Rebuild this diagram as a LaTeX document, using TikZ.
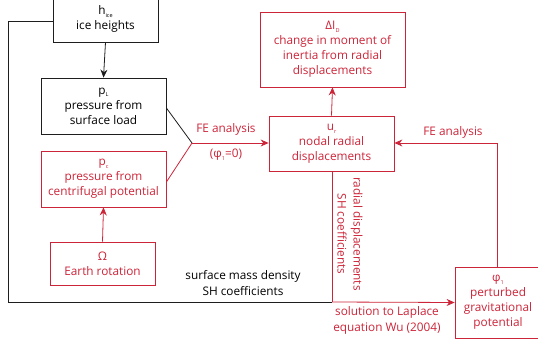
\documentclass[tikz,border=0pt]{standalone}
\usepackage{fontspec}
\setmainfont{Open Sans}
\usetikzlibrary{arrows.meta}
\definecolor{fered}{RGB}{204,36,56}
\definecolor{linegray}{RGB}{30,30,30}
\tikzset{
  box/.style={draw, line width=0.8pt, align=center, inner sep=0pt,
    font=\fontsize{11.8}{15}\selectfont},
  blackbox/.style={box, draw=linegray, text=black},
  redbox/.style={box, draw=fered, text=fered},
  lbl/.style={align=center, font=\fontsize{11.8}{16}\selectfont, inner sep=0pt},
  conn/.style={line width=0.8pt},
  tip/.style={-{Stealth[length=8pt,width=7pt]}},
}
\newcommand{\subx}[1]{\raisebox{-0.45ex}{\fontsize{5.5}{5.5}\selectfont #1}}
\begin{document}
\begin{tikzpicture}[x=1pt,y=-1pt]
\useasboundingbox (0,0) rectangle (538,344);

% boxes
\node[blackbox, minimum width=105pt, minimum height=46pt] (hice) at (105.5,19)
  {h\subx{ice}\\ice heights};
\node[blackbox, minimum width=125pt, minimum height=56pt] (pL) at (103.5,106)
  {p\subx{L}\\pressure from\\surface load};
\node[redbox, minimum width=125pt, minimum height=56pt] (pc) at (103.5,179)
  {p\subx{c}\\pressure from\\centrifugal potential};
\node[redbox, minimum width=105pt, minimum height=43pt] (om) at (102.5,263.5)
  {Ω\\Earth rotation};
\node[redbox, minimum width=145pt, minimum height=75pt] (dI) at (332.5,49.5)
  {ΔI\subx{D}\\change in moment of\\inertia from radial\\displacements};
\node[redbox, minimum width=125pt, minimum height=55pt] (ur) at (331.5,143.5)
  {u\subx{r}\\nodal radial\\displacements};
\node[redbox, minimum width=86pt, minimum height=71pt] (phi) at (498,302.5)
  {φ\subx{1}\\perturbed\\gravitational\\potential};

% junction points
\coordinate (fe) at (192,143);
\coordinate (lc) at (8,21);
\coordinate (ld) at (8,302);
\coordinate (mid) at (332,302);
\coordinate (up) at (497,143);

% black connectors
\draw[conn, linegray, tip] (hice.south) -- (pL.north);
\draw[conn, linegray] (hice.west |- lc) -- (lc) -- (ld) -- (mid);
\draw[conn, linegray] (pL.east |- 0,108) -- (fe);

% red connectors
\draw[conn, fered] (pc.east |- 0,182) -- (fe);
\draw[conn, fered, tip] (fe) -- (ur.west |- fe);
\draw[conn, fered, tip] (om.north) -- (pc.south);
\draw[conn, fered, tip] (ur.north) -- (dI.south);
\draw[conn, fered] (ur.south -| mid) -- (mid);
\draw[conn, fered, tip] (mid) -- (phi.west);
\draw[conn, fered, tip] (phi.north -| up) -- (up) -- (ur.east |- up);

% labels
\node[lbl, text=fered] (l1) at (226,129) {FE analysis};
\node[lbl, text=fered] (l2) at (226,155) {(φ\subx{1}=0)};
\node[lbl, text=fered] (l3) at (453,132) {FE analysis};
\node[lbl, text=fered, rotate=-90] (l4) at (350,234)
  {radial displacements\\SH coefficients};
\node[lbl, text=black] (l5) at (243,283) {surface mass density\\SH coefficients};
\node[lbl, text=fered] (l6) at (387,320.5) {solution to Laplace\\equation Wu (2004)};
\end{tikzpicture}
\end{document}
